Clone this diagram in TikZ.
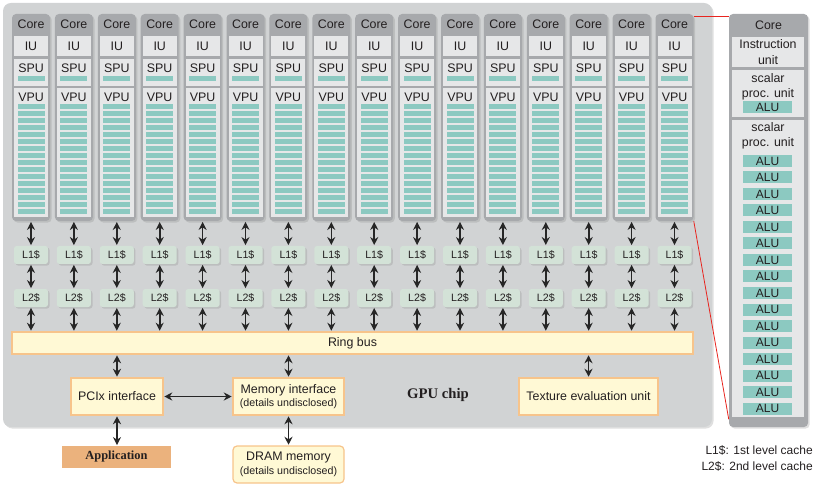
\documentclass[tikz,border=0pt]{standalone}
\usepackage{fontspec}
\setmainfont{Liberation Sans}
\newfontfamily\serifbf{Liberation Serif}
\usepackage{xcolor}
\usepackage{tikz}
\usetikzlibrary{positioning, arrows.meta, shadows}

\definecolor{chipgray}{HTML}{D1D3D4}
\definecolor{coregray}{HTML}{A7A9AC}
\definecolor{unitgray}{HTML}{E6E7E8}
\definecolor{aluteal}{HTML}{8CC9C1}
\definecolor{cachegreen}{HTML}{D3E2D7}
\definecolor{busyellow}{HTML}{FFF9D5}
\definecolor{busorange}{HTML}{F7C48B}
\definecolor{appfill}{HTML}{EBB27D}
\definecolor{zoomred}{HTML}{E8251F}
\definecolor{inkdark}{HTML}{231F20}

\begin{document}
\begin{tikzpicture}[
    x=0.75pt, y=-0.75pt,
    font=\fontsize{9.3}{11}\selectfont, text=inkdark,
    softshadow/.style={drop shadow={shadow xshift=1.2pt, shadow yshift=-1.2pt, opacity=0.25}},
    chip/.style={rectangle, fill=chipgray, rounded corners=6pt, softshadow},
    coreframe/.style={rectangle, fill=coregray, rounded corners=3pt, minimum width=28.5pt, minimum height=155.25pt, inner sep=0pt, softshadow},
    unitbox/.style={rectangle, fill=unitgray, minimum width=25.5pt, inner sep=0pt},
    bar/.style={fill=aluteal},
    alu/.style={rectangle, fill=aluteal, minimum width=36.75pt, minimum height=9pt, inner sep=0pt, font=\fontsize{9}{10}\selectfont},
    cache/.style={rectangle, fill=cachegreen, rounded corners=2pt, minimum width=25.5pt, minimum height=13.5pt, inner sep=0pt, font=\fontsize{8}{9}\selectfont, softshadow},
    iface/.style={rectangle, draw=busorange, fill=busyellow, line width=0.9pt, inner sep=0pt, align=center},
    appbox/.style={rectangle, fill=appfill, minimum width=81.75pt, minimum height=16.5pt, inner sep=0pt, font=\serifbf\bfseries\fontsize{9.3}{11}\selectfont},
    link/.style={{Stealth[length=6pt,width=6pt]}-{Stealth[length=6pt,width=6pt]}, line width=1.2pt, black!85, shorten <=0.5pt, shorten >=0.5pt},
    zoomline/.style={draw=zoomred, line width=0.6pt},
]
\useasboundingbox (0,0) rectangle (816,484);

% === GPU CHIP ===
\node[chip, minimum width=531.75pt, minimum height=318pt] (chip) at (357.5,215) {};

% === RING BUS ===
\node[iface, minimum width=510.75pt, minimum height=16.5pt] (ring) at (352.5,343) {Ring bus};

% === CORES WITH CACHES ===
\foreach \i in {1,...,16}{
  \pgfmathsetmacro\cx{31+(\i-1)*42.9}
  \node[coreframe] (core\i) at (\cx,117.5) {};
  \node (corelbl\i) at (\cx,24) {Core};
  \node[unitbox, minimum height=15pt] (iu\i) at (\cx,46) {IU};
  \node[unitbox, minimum height=20.25pt] (spu\i) at (\cx,72.5) {};
  \node (spulbl\i) at (\cx,68) {SPU};
  \fill[bar] (\cx-13.5,76) rectangle ++(27,5);
  \node[unitbox, minimum height=96.75pt] (vpu\i) at (\cx,152.5) {};
  \node (vpulbl\i) at (\cx,97) {VPU};
  \foreach \k in {0,...,15} \fill[bar] (\cx-13.5,104+7*\k) rectangle ++(27,5);
  \node[cache] (l1\i) at (\cx,255) {L1\$};
  \node[cache] (l2\i) at (\cx,298) {L2\$};
  \draw[link] (core\i) -- (l1\i);
  \draw[link] (l1\i) -- (l2\i);
  \draw[link] (l2\i.south) -- (l2\i.south |- ring.north);
}

% === INTERFACES ===
\node[iface, minimum width=69pt, minimum height=27.75pt] (pcix) at (117,396.5) {PCIx interface};
\node[iface, minimum width=83.25pt, minimum height=27.75pt] (memif) at (288.5,396.5) {Memory interface\\[-1pt]{\fontsize{8}{9}\selectfont (details undisclosed)}};
\node[iface, minimum width=104.25pt, minimum height=27.75pt] (texture) at (588.5,396.5) {Texture evaluation unit};
\node[font=\serifbf\bfseries\fontsize{11}{13}\selectfont] (chiplbl) at (438,395) {GPU chip};

% === OUTSIDE THE CHIP ===
\node[appbox] (app) at (116.5,457) {Application};
\node[iface, rounded corners=3pt, minimum width=83.25pt, minimum height=27.75pt] (dram) at (288.5,464.5) {DRAM memory\\[-1pt]{\fontsize{8}{9}\selectfont (details undisclosed)}};

\draw[link] (pcix.north |- ring.south) -- (pcix.north);
\draw[link] (memif.north |- ring.south) -- (memif.north);
\draw[link] (texture.north |- ring.south) -- (texture.north);
\draw[link] (pcix) -- (memif);
\draw[link] (pcix.south) -- (pcix.south |- app.north);
\draw[link] (memif) -- (dram);

% === CORE DETAIL ===
\node[coreframe, minimum width=59.25pt, minimum height=309.75pt] (detail) at (768.5,220.5) {};
\node (detaillbl) at (768.5,25) {Core};
\node[unitbox, minimum width=54pt, minimum height=22.5pt, align=center, font=\fontsize{9.3}{11.5}\selectfont] (instr) at (768,52) {Instruction\\unit};
\node[unitbox, minimum width=54pt, minimum height=35.25pt] (scalar1) at (768,93.5) {};
\node[align=center, font=\fontsize{9.3}{11.2}\selectfont] (scalar1lbl) at (768,86.5) {scalar\\proc. unit};
\node[alu] (alu0) at (767.5,107) {ALU};
\node[unitbox, minimum width=54pt, minimum height=222.75pt] (scalar2) at (768,268.5) {};
\node[align=center, font=\fontsize{9.3}{11.2}\selectfont] (scalar2lbl) at (768,135.5) {scalar\\proc. unit};
\foreach \k in {1,...,16} \node[alu] (alu\k) at (767.5,144.5+16.5*\k) {ALU};

\draw[zoomline] ([yshift=-2pt]core16.north east) -- ([yshift=-2pt]detail.north west);
\draw[zoomline] (core16.south east) -- ([yshift=6pt]detail.south west);

% === LEGEND ===
\node[anchor=east, align=right, inner sep=0pt, font=\fontsize{9}{12}\selectfont] (legend) at (813,458) {L1\$: 1st level cache\\L2\$: 2nd level cache};

\end{tikzpicture}
\end{document}
